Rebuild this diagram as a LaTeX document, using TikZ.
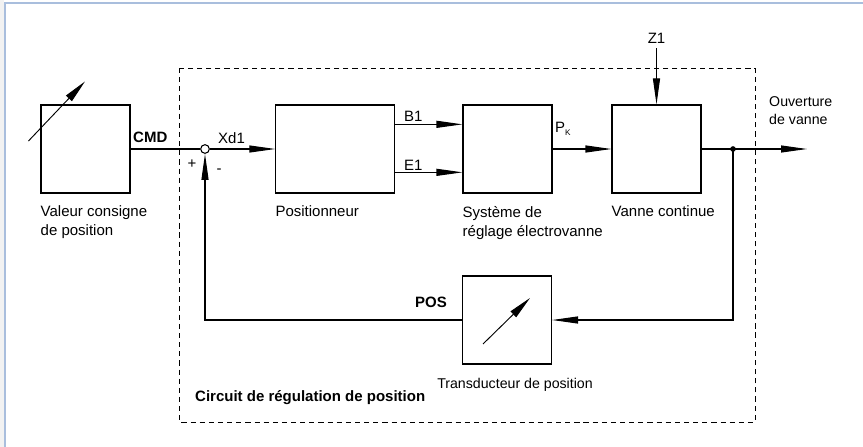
\documentclass[tikz,border=0pt]{standalone}
\usepackage{fontspec}
\setmainfont{Liberation Sans}
\usetikzlibrary{arrows.meta,positioning,calc}
\definecolor{cadrebleu}{HTML}{A9BEDD}

\begin{document}
\begin{tikzpicture}[x=0.03cm,y=-0.03cm]
% styles
\tikzset{
  bloc/.style={draw, line width=0.9pt, minimum width=2.67cm, minimum height=2.64cm, inner sep=0pt},
  lig/.style={line width=0.9pt},
  fl/.style={lig, -{Triangle[length=0.78cm,width=0.21cm]}},
  aig/.style={line width=0.8pt, -{Triangle[length=0.7cm,width=0.24cm]}},
  lbl/.style={inner sep=0pt, font=\fontsize{12.8}{16.2}\selectfont, align=left},
  petit/.style={inner sep=0pt, font=\fontsize{12.1}{16}\selectfont, align=left},
  gras/.style={inner sep=0pt, font=\fontsize{12.8}{16.2}\selectfont\bfseries}
}

\useasboundingbox (0,0) rectangle (863,447);
\fill[gray!10] (0,0) rectangle (4,447);
\draw[cadrebleu, line width=1pt] (5,447) -- (5,3) -- (863,3);

% circuit de regulation
\draw[line width=0.8pt, dash pattern=on 4.4pt off 3.4pt] (179,68) rectangle (755,422);

% blocs
\node[bloc] (vc) at (85.5,149) {};
\node[bloc, minimum width=3.55cm] (pos) at (335,149) {};
\node[bloc] (sys) at (507.5,149) {};
\node[bloc] (van) at (656.5,149) {};
\node[bloc] (tr) at (507,320) {};
\node[draw, circle, lig, inner sep=0pt, minimum size=0.26cm] (som) at (205,149) {};

% aiguilles
\draw[aig] ([shift={(-12,-8)}]vc.west) -- ([shift={(-0.5,-23)}]vc.north);
\draw[aig] ([shift={(-24,24)}]tr.center) -- ([shift={(23,-22)}]tr.center);

\node[lbl, inner ysep=4pt] (z1) at (656.5,38) {Z1};
\coordinate (sortie) at (807,149);
\coordinate (noeud) at (733,149);
\coordinate (retour) at (733,320);
\coordinate (coin) at (205,320);

% liaisons
\draw[lig] (vc) -- (som);
\draw[fl] (som) -- (pos);
\draw[fl] ([yshift=0.74cm]pos.east) -- ([yshift=0.74cm]sys.west);
\draw[fl] ([yshift=-0.7cm]pos.east) -- ([yshift=-0.7cm]sys.west);
\draw[fl] (sys) -- (van);
\draw[fl] (z1) -- (van);
\draw[fl] (van) -- (sortie);
\fill (noeud) circle (0.085cm);
\draw[fl] (noeud) -- (retour) -- (tr);
\draw[fl] (tr) -- (coin) -- (som);

% textes
\node[gras, anchor=base west] (cmd) at (133,142) {CMD};
\node[lbl, anchor=base west] (xd) at (218,143) {Xd1};
\node[lbl] (plus) at (192,164) {+};
\node[lbl] (moins) at (219,171) {-};
\node[lbl, anchor=base west] (b1) at (404,121.5) {B1};
\node[lbl, anchor=base west] (e1) at (404,170) {E1};
\node[lbl, anchor=base west] (pk) at (555,132) {P\raisebox{-0.5ex}{\fontsize{7}{8}\selectfont K}};
\node[petit, anchor=north west] (ouv) at (769,96) {Ouverture\\de vanne};
\node[gras, anchor=base east] (posl) at (447,307) {POS};

\node[lbl, anchor=north west] (vcl) at ([yshift=-0.37cm]vc.south west) {Valeur consigne\\de position};
\node[lbl, anchor=north west] (posn) at ([yshift=-0.37cm]pos.south west) {Positionneur};
\node[lbl, anchor=north west] (sysl) at ([yshift=-0.37cm]sys.south west) {Système de\\réglage électrovanne};
\node[lbl, anchor=north west] (vanl) at ([yshift=-0.37cm]van.south west) {Vanne continue};
\node[petit, anchor=base] (trl) at (515,388) {Transducteur de position};
\node[gras, anchor=base west] (circ) at (195,401) {Circuit de régulation de position};
\end{tikzpicture}
\end{document}
